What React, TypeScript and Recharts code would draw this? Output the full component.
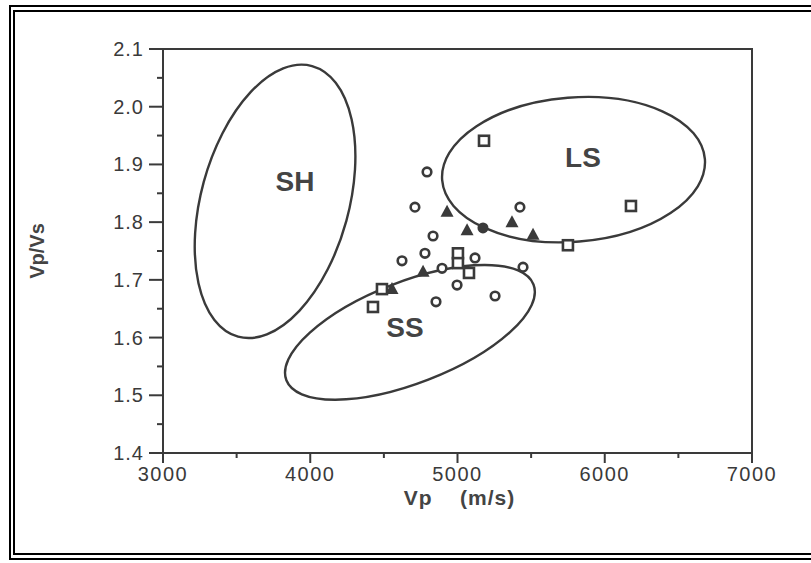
import React from 'react';
import { ScatterChart, Scatter, XAxis, YAxis, ReferenceArea, ReferenceDot, Label } from 'recharts';

// axis ticks (majors get labels, the others are short minor marks)
const xTicks = [3000, 3500, 4000, 4500, 5000, 5500, 6000, 6500, 7000];
const yTicks = [1.4, 1.45, 1.5, 1.55, 1.6, 1.65, 1.7, 1.75, 1.8, 1.85, 1.9, 1.95, 2.0, 2.05, 2.1];

// open circles
const circleVp = [4793, 4711, 5424, 4834, 4779, 5119, 4623, 4895, 5445, 4997, 5255, 4854];
const circleRatio = [1.887, 1.826, 1.826, 1.776, 1.746, 1.738, 1.733, 1.72, 1.722, 1.691, 1.672, 1.662];

// filled circle
const dotVp = [5173];
const dotRatio = [1.79];

// open squares
const squareVp = [5180, 6178, 5750, 5003, 5003, 5078, 4487, 4426];
const squareRatio = [1.941, 1.828, 1.76, 1.746, 1.729, 1.712, 1.684, 1.653];

// filled triangles
const triangleVp = [4929, 5370, 5065, 5513, 4766, 4555];
const triangleRatio = [1.818, 1.8, 1.786, 1.778, 1.714, 1.684];

// lithology fields: centre, half sizes before tilt, tilt in degrees
const regionNames = ['SH', 'LS', 'SS'];
const regionVp = [3761, 5788, 4677];
const regionRatio = [1.836, 1.891, 1.609];
const regionVpHalf = [502, 895, 900];
const regionRatioHalf = [0.243, 0.125, 0.088];
const regionTilt = [15.3, -4.6, -21.2];
const labelVp = [3896, 5852, 4643];
const labelRatio = [1.871, 1.913, 1.618];

const INK = '#3a3a3a';
const FONT = '"Liberation Sans", Arial, Helvetica, sans-serif';

const toPoints = (xs: number[], ys: number[]) => xs.map((vp, i) => ({ vp, ratio: ys[i] }));

const XTick = (props: any) => {
  const { x, y, payload } = props;
  const v = payload.value;
  const major = v % 1000 === 0;
  return (
    <g>
      <line x1={x} y1={y} x2={x} y2={y + (major ? 10 : 5)} stroke={INK} strokeWidth={2} />
      {major && (
        <text x={x} y={y + 28} textAnchor="middle" fontSize={20} letterSpacing={1.5} fill={INK} fontFamily={FONT}>
          {v}
        </text>
      )}
    </g>
  );
};

const YTick = (props: any) => {
  const { x, y, payload } = props;
  const v = payload.value;
  const major = Math.abs(v * 10 - Math.round(v * 10)) < 1e-6;
  return (
    <g>
      <line x1={x - (major ? 14 : 6)} y1={y} x2={x} y2={y} stroke={INK} strokeWidth={2} />
      {major && (
        <text x={x - 19} y={y + 7} textAnchor="end" fontSize={20} letterSpacing={1} fill={INK} fontFamily={FONT}>
          {v.toFixed(1)}
        </text>
      )}
    </g>
  );
};

const circleShape = (p: any) => (
  <circle cx={p.cx} cy={p.cy} r={4.3} fill="#fff" stroke={INK} strokeWidth={2.6} />
);
const dotShape = (p: any) => <circle cx={p.cx} cy={p.cy} r={5.5} fill={INK} />;
const squareShape = (p: any) => (
  <rect x={p.cx - 5} y={p.cy - 5} width={10} height={10} fill="#fff" stroke={INK} strokeWidth={2.6} />
);
const triangleShape = (p: any) => (
  <polygon points={`${p.cx},${p.cy - 7} ${p.cx + 6.5},${p.cy + 5} ${p.cx - 6.5},${p.cy + 5}`} fill={INK} />
);

const ellipseShape = (tilt: number) => (p: any) => {
  const cx = p.x + p.width / 2;
  const cy = p.y + p.height / 2;
  return (
    <ellipse
      cx={cx}
      cy={cy}
      rx={Math.abs(p.width) / 2}
      ry={Math.abs(p.height) / 2}
      transform={`rotate(${tilt} ${cx} ${cy})`}
      fill="none"
      stroke={INK}
      strokeWidth={2.4}
    />
  );
};

const regionLabel = (name: string) => (p: any) => (
  <text x={p.cx} y={p.cy + 10} textAnchor="middle" fontSize={28} fontWeight="bold" fill="#444" fontFamily={FONT}>
    {name}
  </text>
);

export default function App() {
  return (
    <div style={{ position: 'absolute', left: 0, top: 0, width: 811, height: 563, overflow: 'hidden', background: '#fff' }}>
      <div style={{ position: 'absolute', left: 9, top: 5, width: 900, height: 551, border: '2px solid #000', borderRight: 'none' }} />
      <div style={{ position: 'absolute', left: 13, top: 10, width: 900, height: 541, border: '2px solid #000', borderRight: 'none' }} />
      <div style={{ position: 'absolute', left: 0, top: 0 }}>
        <ScatterChart width={811} height={563} margin={{ top: 49, right: 59, bottom: 40, left: 10 }}>
          <XAxis
            type="number"
            dataKey="vp"
            domain={[3000, 7000]}
            ticks={xTicks}
            interval={0}
            tickLine={false}
            tickSize={0}
            tickMargin={0}
            tick={<XTick />}
            axisLine={{ stroke: INK, strokeWidth: 2 }}
            height={70}
            allowDataOverflow
          >
            <Label
              content={(props: any) => {
                const vb = props.viewBox;
                return (
                  <text
                    x={vb.x + vb.width / 2 + 2}
                    y={vb.y + 52}
                    textAnchor="middle"
                    fontSize={21}
                    fontWeight="bold"
                    letterSpacing={1}
                    fill="#444"
                    fontFamily={FONT}
                    style={{ whiteSpace: 'pre' }}
                  >
                    {'Vp    (m/s)'}
                  </text>
                );
              }}
            />
          </XAxis>
          <YAxis
            type="number"
            dataKey="ratio"
            domain={[1.4, 2.1]}
            ticks={yTicks}
            interval={0}
            tickLine={false}
            tickSize={0}
            tickMargin={0}
            tick={<YTick />}
            axisLine={{ stroke: INK, strokeWidth: 2 }}
            width={153}
            allowDataOverflow
          >
            <Label
              content={(props: any) => {
                const vb = props.viewBox;
                const cx = vb.x + 27;
                const cy = vb.y + vb.height / 2;
                return (
                  <text
                    x={cx}
                    y={cy}
                    transform={`rotate(-90 ${cx} ${cy})`}
                    textAnchor="middle"
                    dominantBaseline="central"
                    fontSize={20}
                    fontWeight="bold"
                    fill="#444"
                    fontFamily={FONT}
                  >
                    Vp/Vs
                  </text>
                );
              }}
            />
          </YAxis>
          <ReferenceArea x1={3000} x2={7000} y1={1.4} y2={2.1} fill="none" stroke={INK} strokeWidth={2} ifOverflow="visible" />
          {regionNames.map((name, i) => (
            <ReferenceArea
              key={name}
              x1={regionVp[i] - regionVpHalf[i]}
              x2={regionVp[i] + regionVpHalf[i]}
              y1={regionRatio[i] - regionRatioHalf[i]}
              y2={regionRatio[i] + regionRatioHalf[i]}
              ifOverflow="visible"
              shape={ellipseShape(regionTilt[i])}
            />
          ))}
          {regionNames.map((name, i) => (
            <ReferenceDot key={'l' + name} x={labelVp[i]} y={labelRatio[i]} r={0} ifOverflow="visible" shape={regionLabel(name)} />
          ))}
          <Scatter data={toPoints(circleVp, circleRatio)} shape={circleShape} isAnimationActive={false} />
          <Scatter data={toPoints(dotVp, dotRatio)} shape={dotShape} isAnimationActive={false} />
          <Scatter data={toPoints(squareVp, squareRatio)} shape={squareShape} isAnimationActive={false} />
          <Scatter data={toPoints(triangleVp, triangleRatio)} shape={triangleShape} isAnimationActive={false} />
        </ScatterChart>
      </div>
    </div>
  );
}
